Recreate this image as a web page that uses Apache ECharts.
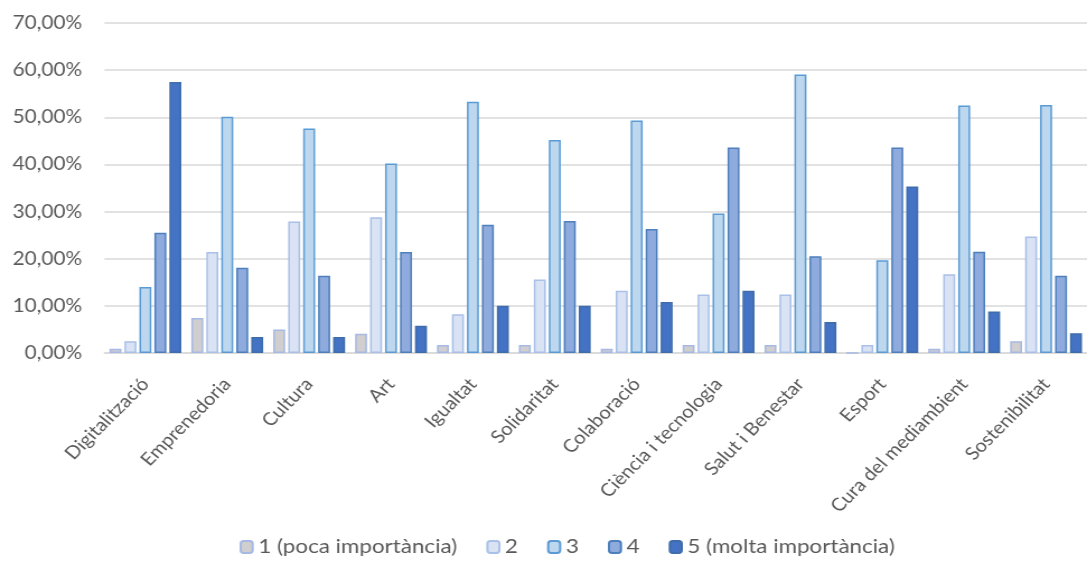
<!DOCTYPE html>
<html>
<head>
<meta charset="utf-8">
<script src="https://cdn.jsdelivr.net/npm/echarts@6/dist/echarts.min.js"></script>
<style>
html,body{margin:0;padding:0;background:#fff;overflow:hidden;}
#wrap{width:1087px;height:561px;overflow:hidden;}
#chart{width:971px;height:561px;transform:scaleX(1.11946);transform-origin:0 0;}
</style>
</head>
<body>
<div id="wrap"><div id="chart"></div></div>
<script>
const categories = ["Digitalització","Emprenedoria","Cultura","Art","Igualtat","Solidaritat","Colaboració","Ciència i tecnologia","Salut i Benestar","Esport","Cura del mediambient","Sostenibilitat"];
const seriesNames = ["1 (poca importància)","2","3","4","5 (molta importància)"];
const s1 = [0.9, 7.4, 5.0, 4.1, 1.7, 1.7, 0.9, 1.7, 1.7, 0.0, 0.9, 2.5];
const s2 = [2.5, 21.4, 27.9, 28.8, 8.2, 15.6, 13.2, 12.4, 12.4, 1.7, 16.7, 24.7];
const s3 = [14.0, 50.1, 47.6, 40.2, 53.3, 45.2, 49.3, 29.6, 59.1, 19.7, 52.5, 52.6];
const s4 = [25.5, 18.1, 16.4, 21.4, 27.2, 28.0, 26.3, 43.6, 20.5, 43.6, 21.5, 16.4];
const s5 = [57.5, 3.4, 3.4, 5.8, 10.0, 10.0, 10.8, 13.2, 6.6, 35.3, 8.8, 4.2];
const yTicks = [0, 10, 20, 30, 40, 50, 60, 70];

const fills = ["#D0CECE", "#DAE3F3", "#BDD7EE", "#8FAADC", "#4472C4"];
const borders = ["#A6B9E4", "#A9C0E8", "#5B9BD5", "#4D7FBC", "#3F6DAA"];
const data = [s1, s2, s3, s4, s5];

const chart = echarts.init(document.getElementById('chart'));
const font = "Lato, 'Open Sans', sans-serif";
chart.setOption({
  animation: false,
  textStyle: { fontFamily: font },
  grid: { left: 93.3, right: -11.1, top: 23, bottom: 208, containLabel: false },
  legend: {
    bottom: -1,
    left: 209,
    itemWidth: 10.7,
    itemHeight: 12,
    itemGap: 26,
    textStyle: { fontSize: 20, color: '#595959', fontFamily: font },
    data: seriesNames
  },
  xAxis: {
    type: 'category',
    data: categories,
    axisLine: { lineStyle: { color: '#D9D9D9', width: 1.5 } },
    axisTick: { show: false },
    axisLabel: { rotate: 48, fontSize: 18, color: '#595959', interval: 0, margin: 28, fontFamily: font }
  },
  yAxis: {
    type: 'value',
    min: yTicks[0],
    max: yTicks[yTicks.length - 1],
    interval: 10,
    axisLine: { show: false },
    axisTick: { show: false },
    splitLine: { lineStyle: { color: '#D9D9D9', width: 1.5 } },
    axisLabel: {
      fontSize: 18.5, color: '#595959', margin: 20, fontFamily: font,
      formatter: v => v.toFixed(2).replace('.', ',') + '%'
    }
  },
  series: data.map((d, i) => ({
    name: seriesNames[i],
    type: 'bar',
    data: d,
    barWidth: 10.7,
    barGap: '25%',
    itemStyle: { color: fills[i], borderColor: borders[i], borderWidth: 1.5 }
  }))
});
</script>
</body>
</html>
